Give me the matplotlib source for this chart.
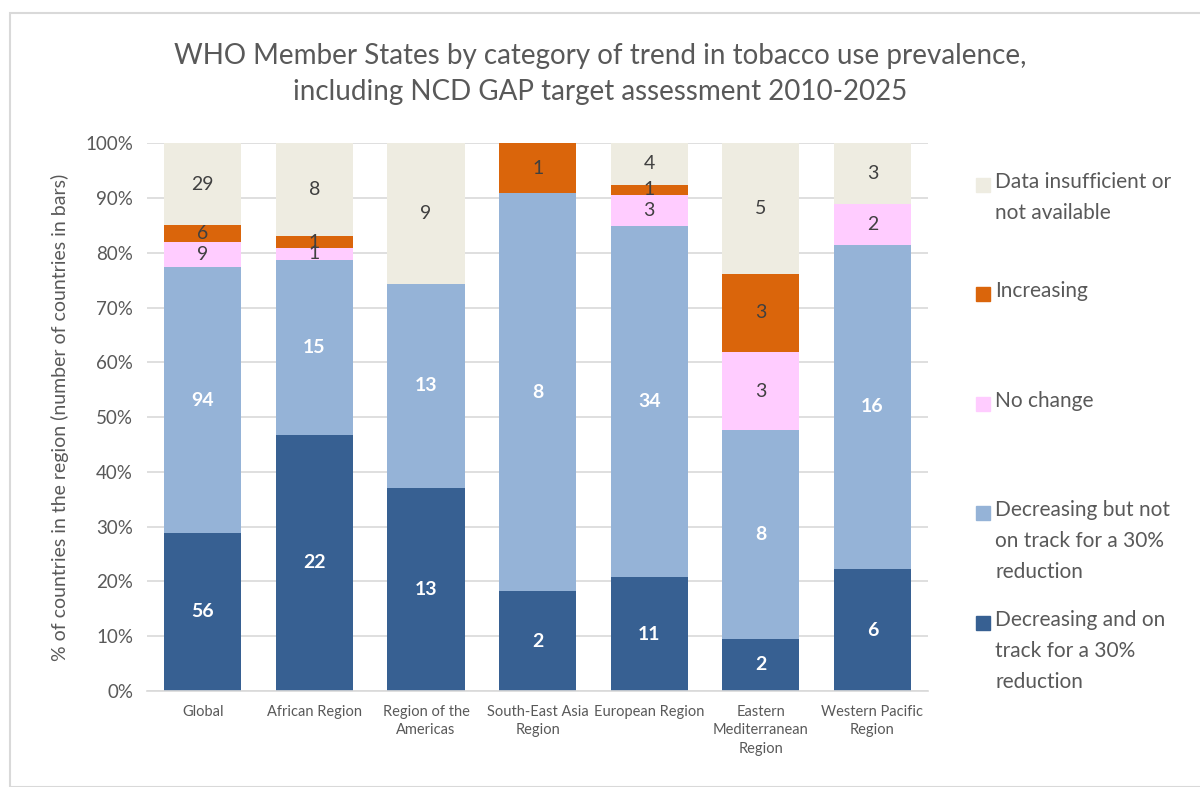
import numpy as np
import matplotlib
matplotlib.use("Agg")
import matplotlib.pyplot as plt
from matplotlib.patches import Rectangle
from matplotlib.ticker import PercentFormatter

plt.rcParams['font.family'] = ['Lato', 'DejaVu Sans']

regions = ["Global", "African Region", "Region of the\nAmericas", "South-East Asia\nRegion",
           "European Region", "Eastern\nMediterranean\nRegion", "Western Pacific\nRegion"]

# counts of countries per category, bottom to top
on_track = [56, 22, 13, 2, 11, 2, 6]
not_on_track = [94, 15, 13, 8, 34, 8, 16]
no_change = [9, 1, 0, 0, 3, 3, 2]
increasing = [6, 1, 0, 1, 1, 3, 0]
no_data = [29, 8, 9, 0, 4, 5, 3]

series = [on_track, not_on_track, no_change, increasing, no_data]
names = ["Decreasing and on\ntrack for a 30%\nreduction",
         "Decreasing but not\non track for a 30%\nreduction",
         "No change", "Increasing",
         "Data insufficient or\nnot available"]
colors = ["#376092", "#95B3D7", "#FFCCFF", "#DA650B", "#EEECE1"]
label_colors = ["white", "white", "#404040", "#404040", "#404040"]
label_weight = ["bold", "bold", "normal", "normal", "normal"]

counts = np.array(series, dtype=float)
totals = counts.sum(axis=0)
pct = counts / totals * 100

fig = plt.figure(figsize=(12, 7.87), dpi=100)
ax = fig.add_axes([0.1225, 0.122, 0.651, 0.696])

x = np.arange(len(regions))
bottom = np.zeros(len(regions))
for i in range(len(series)):
    bars = ax.bar(x, pct[i], 0.69, bottom=bottom, color=colors[i], zorder=2)
    for j, b in enumerate(bars):
        if counts[i][j] > 0:
            ax.text(b.get_x() + b.get_width() / 2, bottom[j] + pct[i][j] / 2,
                    str(int(counts[i][j])), ha="center", va="center",
                    fontsize=14, color=label_colors[i], fontweight=label_weight[i], zorder=3)
    bottom += pct[i]

ax.set_xlim(-0.5, len(regions) - 0.5)
ax.set_ylim(0, 100)
ax.set_yticks(np.arange(0, 101, 10))
ax.yaxis.set_major_formatter(PercentFormatter(decimals=0))
ax.grid(axis="y", color="#D9D9D9", linewidth=1.2, zorder=0)
ax.set_xticks(x)
ax.set_xticklabels(regions, fontsize=10.5, color="#595959", linespacing=1.4)
ax.tick_params(axis="y", labelsize=13.5, colors="#595959", length=0, pad=10)
ax.tick_params(axis="x", length=0, pad=10)
for s in ["top", "right", "left"]:
    ax.spines[s].set_visible(False)
ax.spines["bottom"].set_color("#D9D9D9")
ax.spines["bottom"].set_linewidth(1.2)
ax.set_ylabel("% of countries in the region (number of countries in bars)",
              fontsize=14, color="#595959", labelpad=12)

fig.suptitle("WHO Member States by category of trend in tobacco use prevalence,\n"
             "including NCD GAP target assessment 2010-2025",
             fontsize=20, color="#595959", y=0.945, linespacing=1.45)

# legend, top entry first
leg_y = [185, 294, 404, 513, 623]
H = 787.0
W = 1200.0
for k, i in enumerate(reversed(range(len(series)))):
    yc = 1 - leg_y[k] / H
    fig.patches.append(Rectangle((976 / W, yc - 7 / H), 14 / W, 14 / H,
                                 transform=fig.transFigure, color=colors[i]))
    fig.text(995 / W, yc + 13 / H, names[i], fontsize=15, color="#595959",
             ha="left", va="top", linespacing=1.7)

fig.patches.append(Rectangle((10 / W, 0.0), 1.0, 1 - 13 / H, transform=fig.transFigure,
                             fill=False, edgecolor="#D9D9D9", linewidth=1.5))

fig.savefig("out.png", dpi=100)
